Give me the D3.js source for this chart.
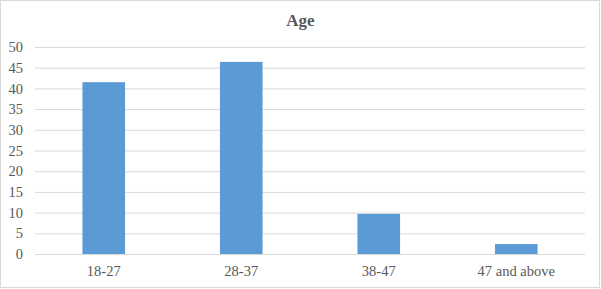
<!DOCTYPE html>
<html>
<head>
<meta charset="utf-8">
<script src="https://cdn.jsdelivr.net/npm/d3@7"></script>
<style>
  body { margin: 0; background: #fff; }
  svg { display: block; }
</style>
</head>
<body>
<svg id="chart" width="601" height="289"></svg>
<script>
"use strict";

const categories = ["18-27", "28-37", "38-47", "47 and above"];
const values = [41.5, 46.4, 9.7, 2.4];
const yTicks = [0, 5, 10, 15, 20, 25, 30, 35, 40, 45, 50];
const title = "Age";

const svg = d3.select("#chart");
const W = 601, H = 289;
const margin = { top: 47, right: 16, bottom: 35, left: 35 };
const width = W - margin.left - margin.right;
const height = H - margin.top - margin.bottom;
const textColor = "#595959";
const font = "Liberation Serif, Times New Roman, serif";

// outer frame
svg.append("rect")
    .attr("x", 0.5).attr("y", 0.5)
    .attr("width", W - 2).attr("height", H - 2)
    .attr("fill", "#fff")
    .attr("stroke", "#d9d9d9");

svg.append("text")
    .attr("x", W / 2)
    .attr("y", 26)
    .attr("text-anchor", "middle")
    .attr("font-family", font)
    .attr("font-size", 17)
    .attr("font-weight", "bold")
    .attr("fill", textColor)
    .text(title);

const chart = svg.append("g")
    .attr("transform", `translate(${margin.left}, ${margin.top})`);

const xScale = d3.scaleBand()
    .range([0, width])
    .domain(categories)
    .paddingInner(0.69)
    .paddingOuter(0.345);

const yScale = d3.scaleLinear().range([height, 0]).domain([0, 50]);

// gridlines
chart.append("g")
    .call(d3.axisLeft(yScale).tickValues(yTicks).tickSize(-width).tickFormat(""))
    .call(g => g.select(".domain").remove())
    .call(g => g.selectAll("line").attr("stroke", "#d9d9d9"));

// y labels
chart.append("g")
    .call(d3.axisLeft(yScale).tickValues(yTicks).tickSize(0).tickPadding(12))
    .attr("font-family", font)
    .attr("font-size", 14.5)
    .call(g => g.select(".domain").remove())
    .call(g => g.selectAll("text").attr("fill", textColor));

chart.selectAll(".bar")
    .data(categories)
    .enter()
    .append("rect")
    .attr("class", "bar")
    .attr("x", (c) => xScale(c))
    .attr("y", (c, i) => yScale(values[i]))
    .attr("width", xScale.bandwidth())
    .attr("height", (c, i) => height - yScale(values[i]))
    .attr("fill", "#5b9bd5");

// x labels
chart.append("g")
    .attr("transform", `translate(0, ${height})`)
    .call(d3.axisBottom(xScale).tickSize(0).tickPadding(12))
    .attr("font-family", font)
    .attr("font-size", 14.5)
    .call(g => g.select(".domain").remove())
    .call(g => g.selectAll("text").attr("fill", textColor));
</script>
</body>
</html>
